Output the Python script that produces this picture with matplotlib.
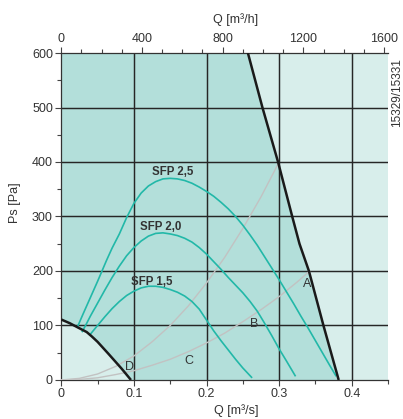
import numpy as np
import matplotlib
matplotlib.use("Agg")
import matplotlib.pyplot as plt
from matplotlib.ticker import MultipleLocator

plt.rcParams['font.family'] = ['Liberation Sans', 'DejaVu Sans']

# fan curves, Q in m3/s, Ps in Pa
sfp25_q = [0.0225, 0.03, 0.04, 0.05, 0.0625, 0.07, 0.08, 0.09, 0.1, 0.11, 0.12, 0.13, 0.14, 0.15,
           0.16, 0.17, 0.18, 0.19, 0.2, 0.21, 0.22, 0.23, 0.24, 0.25, 0.26, 0.27, 0.28, 0.29,
           0.3, 0.31, 0.32, 0.33, 0.34, 0.35, 0.36, 0.37, 0.378]
sfp25_p = [98, 121, 151, 181, 220, 242, 268, 298, 324, 343, 356, 364, 369, 370,
           369, 366, 361, 354, 346, 337, 326, 314, 300, 284, 266, 247, 226, 205,
           184, 162, 140, 117, 95, 72, 49, 26, 8]

sfp20_q = [0.029, 0.035, 0.04, 0.05, 0.06, 0.07, 0.08, 0.09, 0.1, 0.11, 0.12, 0.13, 0.14, 0.15,
           0.16, 0.17, 0.18, 0.19, 0.2, 0.21, 0.22, 0.23, 0.24, 0.25, 0.26, 0.27, 0.28, 0.29,
           0.3, 0.31, 0.322]
sfp20_p = [89, 104, 117, 141, 165, 188, 209, 228, 243, 255, 264, 269, 270, 268,
           265, 260, 253, 243, 231, 217, 203, 188, 174, 160, 144, 126, 104, 81,
           57, 35, 8]

sfp15_q = [0.0395, 0.045, 0.05, 0.06, 0.07, 0.08, 0.09, 0.1, 0.11, 0.12, 0.13, 0.14, 0.15,
           0.16, 0.17, 0.18, 0.19, 0.2, 0.21, 0.22, 0.23, 0.24, 0.25, 0.262]
sfp15_p = [83, 92, 100, 116, 131, 144, 155, 163, 169, 172, 172, 170, 166,
           161, 154, 144, 130, 110, 90, 72, 55, 38, 22, 5]

# system curves
sysA_q = [0, 0.025, 0.05, 0.075, 0.1, 0.125, 0.15, 0.175, 0.2, 0.225, 0.25, 0.275, 0.3, 0.325, 0.342]
sysA_p = [0, 1, 4, 10, 17, 27, 38, 52, 68, 86, 107, 129, 153, 180, 200]

sysD_q = [0, 0.025, 0.05, 0.075, 0.1, 0.125, 0.15, 0.175, 0.2, 0.225, 0.25, 0.275, 0.298]
sysD_p = [0, 3, 11, 25, 44, 70, 100, 136, 178, 225, 278, 336, 395]

# operating range limits
left_q = [0, 0.012, 0.0234, 0.035, 0.042, 0.05, 0.065, 0.083, 0.096]
left_p = [111, 104, 96, 88, 80, 70, 48, 21, 0]

right_q = [0.257, 0.277, 0.2985, 0.318, 0.328, 0.341, 0.361, 0.382]
right_p = [600, 500, 400, 300, 250, 200, 100, 0]

labels = {"SFP 2,5": (0.153, 381), "SFP 2,0": (0.137, 280), "SFP 1,5": (0.124, 180)}
letters = {"A": (0.339, 177), "B": (0.265, 102), "C": (0.176, 35), "D": (0.094, 24)}

dark = "#b3dfda"
light = "#d8eeeb"
teal = "#22b8a8"
grey = "#c2c2c2"
txt = "#333333"

fig = plt.figure(figsize=(4.03, 4.19), dpi=100)
ax = fig.add_axes([0.152, 0.0931, 0.811, 0.7804])
ax.set_facecolor(light)
ax.set_xlim(0, 0.45)
ax.set_ylim(0, 600)

# shaded working area
poly_q = [0] + left_q + right_q[::-1] + [0]
poly_p = [600] + left_p + right_p[::-1] + [600]
ax.fill(poly_q, poly_p, color=dark, lw=0, zorder=1)

for v in [0.1, 0.2, 0.3, 0.4]:
    ax.axvline(v, color="#262626", lw=1.05, zorder=2)
for h in [100, 200, 300, 400, 500]:
    ax.axhline(h, color="#262626", lw=1.05, zorder=2)

ax.plot(sysA_q, sysA_p, color=grey, lw=1.0, zorder=3)
ax.plot(sysD_q, sysD_p, color=grey, lw=1.0, zorder=3)

for q, p in [(sfp25_q, sfp25_p), (sfp20_q, sfp20_p), (sfp15_q, sfp15_p)]:
    ax.plot(q, p, color=teal, lw=1.2, zorder=4)

ax.plot(left_q, left_p, color="#1a1a1a", lw=1.8, zorder=5, solid_capstyle="butt")
ax.plot(right_q, right_p, color="#1a1a1a", lw=1.8, zorder=5, solid_capstyle="butt")

for s, (x, y) in labels.items():
    ax.text(x, y, s, fontsize=8.3, fontweight="bold", color=txt, ha="center", va="center", zorder=6)
for s, (x, y) in letters.items():
    ax.text(x, y, s, fontsize=9, color=txt, ha="center", va="center", zorder=6)

ax.text(1.028, 0.88, "15329/15331", transform=ax.transAxes, rotation=90,
        fontsize=8.5, color=txt, ha="center", va="center")

ax.xaxis.set_minor_locator(MultipleLocator(0.05))
ax.yaxis.set_major_locator(MultipleLocator(100))
ax.yaxis.set_minor_locator(MultipleLocator(50))
ax.set_xticks([0, 0.1, 0.2, 0.3, 0.4])
ax.set_xticklabels(["0", "0.1", "0.2", "0.3", "0.4"])
ax.tick_params(which="both", direction="out", color="#444444", labelcolor=txt, labelsize=9, width=0.8)
ax.tick_params(which="major", length=4, pad=2)
ax.tick_params(which="minor", length=3)

for side in ["left", "bottom", "top"]:
    ax.spines[side].set_color("#333333")
    ax.spines[side].set_linewidth(0.9)
ax.spines["right"].set_visible(False)

top = ax.secondary_xaxis("top", functions=(lambda q: q * 3600, lambda h: h / 3600))
top.set_xticks([0, 400, 800, 1200, 1600])
top.xaxis.set_minor_locator(MultipleLocator(100))
top.tick_params(which="both", direction="out", color="#444444", labelcolor=txt, labelsize=9, width=0.8)
top.tick_params(which="major", length=4, pad=2)
top.tick_params(which="minor", length=3)
top.spines["top"].set_visible(False)

# axis titles placed like the original
fig.text(236 / 403, 1 - 20 / 419, "Q [m³/h]", fontsize=9, color=txt, ha="center", va="center")
fig.text(236 / 403, 1 - 411 / 419, "Q [m³/s]", fontsize=9, color=txt, ha="center", va="center")
fig.text(15 / 403, 1 - 203 / 419, "Ps [Pa]", fontsize=9, color=txt, ha="center", va="center", rotation=90)

fig.savefig("out.png", dpi=100)
